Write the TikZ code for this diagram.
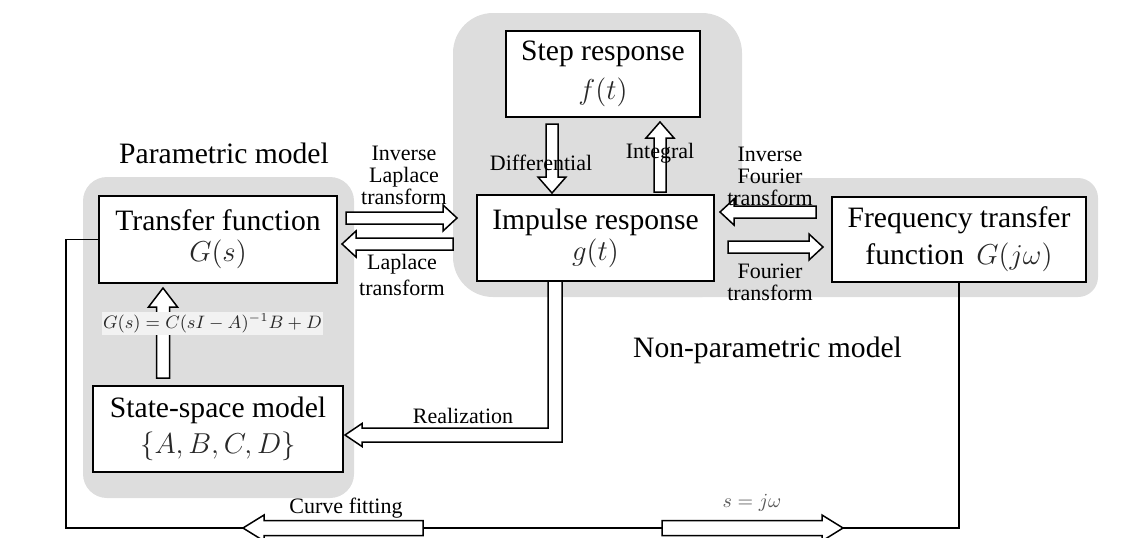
\documentclass[tikz,border=0pt]{standalone}
\usepackage[no-math]{fontspec}
\setmainfont{Liberation Serif}
\usetikzlibrary{calc}

\definecolor{modelgray}{RGB}{221,221,221}
\definecolor{mathgray}{RGB}{40,40,40}
\definecolor{formulabg}{RGB}{242,242,242}

% hollow block arrow: from, to, half shaft, half head, head length
\newcommand{\blkarrow}[5]{%
  \coordinate (ba) at (#1);
  \coordinate (bb) at (#2);
  \coordinate (bc) at ($(bb)!#5!(ba)$);
  \draw[blk] ($(ba)!#3!90:(bb)$) -- ($(bc)!#3!90:(bb)$) -- ($(bc)!#4!90:(bb)$) -- (bb)
    -- ($(bc)!#4!-90:(bb)$) -- ($(bc)!#3!-90:(bb)$) -- ($(ba)!#3!-90:(bb)$) -- cycle;
}

\begin{document}
\begin{tikzpicture}[x=0.5pt,y=-0.5pt,
  box/.style={draw,fill=white,line width=1pt,align=center,inner sep=0pt,font=\fontsize{14.8}{15.5}\selectfont},
  lbl/.style={align=center,inner sep=0pt,font=\fontsize{11}{11}\selectfont},
  modeltitle/.style={inner sep=0pt,font=\fontsize{14.8}{15}\selectfont},
  blk/.style={draw,fill=white,line width=0.75pt},
  wire/.style={line width=0.8pt}]
\path[use as bounding box] (0,0) rectangle (1138,537);
\clip (0,0) rectangle (1138,537);

\fill[modelgray,rounded corners=12pt] (83,177) rectangle (354,498);
\fill[modelgray,rounded corners=20pt] (453,13) rectangle (742,297);
\fill[modelgray,rounded corners=10pt] (600,178) rectangle (1098,297);

\node[box,minimum width=97pt,minimum height=43pt] (st) at (603,74) {Step response\\[4pt]\textcolor{mathgray}{$f(t)$}};
\node[box,minimum width=118.5pt,minimum height=43pt] (im) at (595.5,238) {Impulse response\\\textcolor{mathgray}{$g(t)$}};
\node[box,minimum width=119pt,minimum height=43.5pt] (tf) at (218,239.5) {Transfer function\\\textcolor{mathgray}{$G(s)$}};
\node[box,minimum width=127pt,minimum height=42.5pt] (fr) at (959,239.5) {Frequency transfer\\[3pt]function~\,\textcolor{mathgray}{$G(j\omega)$}};
\node[box,minimum width=125pt,minimum height=43pt] (ss) at (218,429) {State-space model\\[2.5pt]\textcolor{mathgray}{$\{A,B,C,D\}$}};

\coordinate (lpl) at (66,528);
\draw[wire] (tf.west) -| (lpl) -| (fr.south);

\coordinate (il1) at (346,218);
\coordinate (il2) at (457,218);
\coordinate (la1) at (453,244);
\coordinate (la2) at (342,244);
\coordinate (df1) at (552,124);
\coordinate (df2) at (552,193);
\coordinate (in1) at (660,192);
\coordinate (in2) at (660,122);
\coordinate (if1) at (816,212);
\coordinate (if2) at (720,212);
\coordinate (fo1) at (728,247);
\coordinate (fo2) at (823,247);
\coordinate (gs1) at (163,378);
\coordinate (gs2) at (163,288);
\coordinate (cf1) at (423,528);
\coordinate (cf2) at (243,528);
\coordinate (sj1) at (662,528);
\coordinate (sj2) at (843,528);

\blkarrow{il1}{il2}{3pt}{6.5pt}{7pt}
\blkarrow{la1}{la2}{3pt}{6.5pt}{7pt}
\blkarrow{df1}{df2}{3pt}{7pt}{8pt}
\blkarrow{in1}{in2}{3pt}{7pt}{8pt}
\blkarrow{if1}{if2}{3pt}{6.5pt}{7pt}
\blkarrow{fo1}{fo2}{3pt}{6.5pt}{7pt}
\blkarrow{gs1}{gs2}{3.25pt}{7.25pt}{9.5pt}
\blkarrow{cf1}{cf2}{3.75pt}{6.5pt}{10.5pt}
\blkarrow{sj1}{sj2}{3.75pt}{6.5pt}{10.5pt}

\coordinate (rtop) at (555,282);
\coordinate (rcor) at (555,435);
\coordinate (rtip) at (345,435);
\draw[blk] ($(rtop)+(-3.5pt,0)$) -- ($(rcor)+(-3.5pt,3.5pt)$) -- ($(rtip)+(8.5pt,3.5pt)$)
  -- ($(rtip)+(8.5pt,5.75pt)$) -- (rtip) -- ($(rtip)+(8.5pt,-5.75pt)$)
  -- ($(rtip)+(8.5pt,-3.5pt)$) -- ($(rcor)+(3.5pt,-3.5pt)$) -- ($(rtop)+(3.5pt,0)$);

\node[fill=formulabg,inner xsep=0pt,inner ysep=1pt,minimum width=110.5pt,minimum height=11.5pt,font=\fontsize{8.8}{9}\selectfont] (gsf) at (212.5,323.5) {\textcolor{mathgray}{$G(s)=C(sI-A)^{-1}B+D$}};

\node[modeltitle] (pm) at (224,153) {Parametric model};
\node[modeltitle] (npm) at (767.5,350) {Non-parametric model};
\node[lbl] (ilt) at (404,175) {Inverse\\Laplace\\transform};
\node[lbl] (lat) at (402,275) {Laplace\\[2pt]transform};
\node[lbl] (dft) at (541,163) {Differential};
\node[lbl] (igt) at (660,153) {Integral};
\node[lbl] (ift) at (770,176.5) {Inverse\\Fourier\\transform};
\node[lbl] (fot) at (770,282.5) {Fourier\\transform};
\node[lbl] (rzt) at (463,416) {Realization};
\node[lbl] (cft) at (346,508) {Curve fitting};
\node[inner sep=0pt,font=\fontsize{10.4}{11}\selectfont,text=black!65] (sjt) at (752,503) {$s=j\omega$};
\end{tikzpicture}
\end{document}
